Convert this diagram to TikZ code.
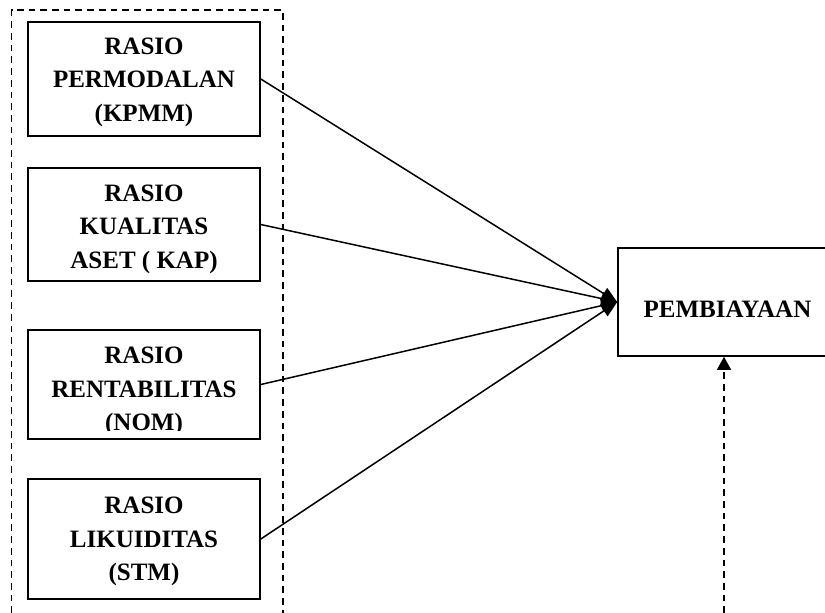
\documentclass[tikz,border=0pt]{standalone}
\usepackage{fontspec}
\setmainfont{Liberation Serif}
\usetikzlibrary{arrows.meta}
\begin{document}
\begin{tikzpicture}[x=1pt,y=-1pt,
  boxstyle/.style={draw,line width=1.6pt,minimum width=232pt,inner sep=0pt},
  lbl/.style={align=center,inner sep=0pt,font=\fontsize{25}{33.5}\selectfont\bfseries},
  conn/.style={line width=1.5pt,-{Triangle[length=16pt,width=13pt]}},
  dashline/.style={line width=1.5pt,dash pattern=on 6.7pt off 5pt}]
\useasboundingbox (0,0) rectangle (825,613);
% dashed group frame
\coordinate (fa) at (11.5,613);
\coordinate (fb) at (11.5,10);
\coordinate (fc) at (283,10);
\coordinate (fd) at (283,613);
\draw[dashline] (fa) -- (fb) -- (fc) -- (fd);
% boxes
\node[boxstyle,minimum height=114pt] (b1) at (144,79) {};
\node[boxstyle,minimum height=113pt] (b2) at (144,224.5) {};
\node[boxstyle,minimum height=109pt] (b3) at (144,384.5) {};
\node[boxstyle,minimum height=120pt] (b4) at (144,539) {};
\node[lbl] (t1) at (144,82.2) {RASIO\\PERMODALAN\\(KPMM)};
\node[lbl] (t2) at (144,229.3) {RASIO\\KUALITAS\\ASET ( KAP)};
\begin{scope}
\clip (28,330) rectangle (260,430);
\node[lbl] (t3) at (144,391.6) {RASIO\\RENTABILITAS\\(NOM)};
\end{scope}
\node[lbl] (t4) at (144,541.8) {RASIO\\LIKUIDITAS\\(STM)};
% target
\node[draw,line width=1.6pt,minimum width=219pt,minimum height=108pt,inner sep=0pt] (p) at (727.5,302) {};
\node[lbl] (pt) at (727.5,309) {PEMBIAYAAN};
% connectors
\draw[conn] (b1.east) -- (p.west);
\draw[conn] (b2.east) -- (p.west);
\draw[conn] (b3.east) -- (p.west);
\draw[conn] (b4.east) -- (p.west);
\coordinate (q) at (724,613);
\draw[dashline,-{Triangle[length=13pt,width=14pt]}] (q) -- (p.south -| q);
\end{tikzpicture}
\end{document}
